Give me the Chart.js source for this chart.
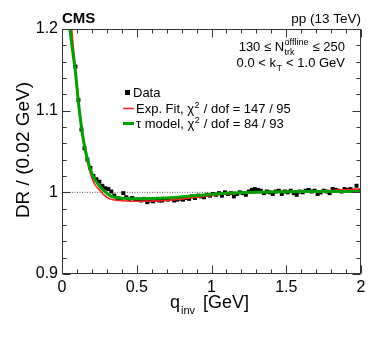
<!DOCTYPE html>
<html>
<head>
<meta charset="utf-8">
<script src="https://cdn.jsdelivr.net/npm/chart.js@4.4.1/dist/chart.umd.min.js"></script>
<style>
html, body { margin: 0; padding: 0; background: #fff; }
canvas { display: block; }
</style>
</head>
<body>
<canvas id="mycanvas" width="374" height="338"></canvas>
<script>
// bin centres (0.02 GeV bins)
let qBins = [
    0.01, 0.03, 0.05, 0.07, 0.09, 0.11, 0.13, 0.15, 0.17, 0.19,
    0.21, 0.23, 0.25, 0.27, 0.29, 0.31, 0.33, 0.35, 0.37, 0.39,
    0.41, 0.43, 0.45, 0.47, 0.49, 0.51, 0.53, 0.55, 0.57, 0.59,
    0.61, 0.63, 0.65, 0.67, 0.69, 0.71, 0.73, 0.75, 0.77, 0.79,
    0.81, 0.83, 0.85, 0.87, 0.89, 0.91, 0.93, 0.95, 0.97, 0.99,
    1.01, 1.03, 1.05, 1.07, 1.09, 1.11, 1.13, 1.15, 1.17, 1.19,
    1.21, 1.23, 1.25, 1.27, 1.29, 1.31, 1.33, 1.35, 1.37, 1.39,
    1.41, 1.43, 1.45, 1.47, 1.49, 1.51, 1.53, 1.55, 1.57, 1.59,
    1.61, 1.63, 1.65, 1.67, 1.69, 1.71, 1.73, 1.75, 1.77, 1.79,
    1.81, 1.83, 1.85, 1.87, 1.89, 1.91, 1.93, 1.95, 1.97, 1.99
];
let drData = [
    1.600, 1.450, 1.300, 1.215, 1.154, 1.113, 1.077, 1.054, 1.040, 1.030,
    1.020, 1.016, 1.013, 1.008, 1.005, 1.004, 1.001, 0.996, 0.993, 0.992,
    0.999, 0.994, 0.992, 0.993, 0.991, 0.991, 0.990, 0.992, 0.988, 0.990,
    0.989, 0.991, 0.990, 0.990, 0.992, 0.991, 0.992, 0.990, 0.991, 0.992,
    0.991, 0.993, 0.992, 0.995, 0.993, 0.996, 0.995, 0.994, 0.997, 0.996,
    0.998, 0.997, 0.999, 0.996, 1.000, 0.998, 0.999, 0.995, 0.998, 1.000,
    0.999, 0.997, 1.001, 1.003, 1.004, 1.003, 1.002, 0.999, 1.001, 1.000,
    0.998, 1.001, 1.002, 0.998, 1.001, 1.000, 1.002, 0.999, 0.997, 1.001,
    1.000, 1.002, 1.003, 1.001, 1.002, 0.998, 1.000, 1.002, 1.001, 0.999,
    1.004, 1.003, 1.002, 1.001, 1.004, 1.003, 1.004, 1.002, 1.008, 1.002
];

// fit curves
let expFitQ = [0.058, 0.065, 0.077, 0.09, 0.11, 0.13, 0.15, 0.17, 0.19, 0.21, 0.23, 0.25, 0.28, 0.32, 0.38, 0.50, 0.70, 0.90, 1.10, 1.30, 1.50, 1.75, 2.00];
let expFitY = [1.215, 1.200, 1.175, 1.150, 1.110, 1.078, 1.054, 1.037, 1.023, 1.013, 1.007, 1.003, 0.997, 0.992, 0.990, 0.989, 0.990, 0.994, 0.998, 1.000, 1.001, 1.002, 1.004];
let tauQ = [0.045, 0.053, 0.07, 0.09, 0.11, 0.13, 0.15, 0.17, 0.19, 0.21, 0.23, 0.25, 0.28, 0.32, 0.38, 0.50, 0.70, 0.90, 1.10, 1.30, 1.60, 2.00];
let tauY = [1.215, 1.200, 1.175, 1.147, 1.110, 1.080, 1.057, 1.041, 1.028, 1.019, 1.013, 1.008, 1.002, 0.996, 0.993, 0.992, 0.993, 0.996, 0.999, 1.000, 1.001, 1.001];

let refQ = [0, 2];
let refY = [1, 1];

let xTicks = [0, 0.5, 1, 1.5, 2];
let xTickLabels = ['0', '0.5', '1', '1.5', '2'];
let yTicks = [0.9, 1, 1.1, 1.2];
let yTickLabels = ['0.9', '1', '1.1', '1.2'];

let FONT = "'Liberation Sans', Arial, Helvetica, sans-serif";

function pts(xs, ys) {
    let out = [];
    for (let i in xs) out.push({x: xs[i], y: ys[i]});
    return out;
}

function tickLabel(ticks, labels, v) {
    for (let i in ticks) {
        if (Math.abs(ticks[i] - v) < 1e-6) return labels[i];
    }
    return '';
}

// ROOT-like frame with inward ticks, plus all text
let cmsPlugin = {
    id: 'cms',
    afterDatasetsDraw(chart) {
        let ctx = chart.ctx;
        let a = chart.chartArea;
        let xs = chart.scales.x, ys = chart.scales.y;
        let L = Math.round(a.left) + 0.5, R = Math.round(a.right) - 0.5;
        let T = Math.round(a.top) + 0.5, B = Math.round(a.bottom) - 0.5;
        ctx.save();
        ctx.strokeStyle = '#333';
        ctx.lineWidth = 1;
        ctx.strokeRect(L, T, R - L, B - T);
        ctx.beginPath();
        for (let i = 0; i <= 20; i++) {
            let px = Math.round(xs.getPixelForValue(i * 0.1)) + 0.5;
            let len = (i % 5 === 0) ? 8 : 4;
            ctx.moveTo(px, B); ctx.lineTo(px, B - len);
            ctx.moveTo(px, T); ctx.lineTo(px, T + len);
        }
        for (let i = 0; i <= 15; i++) {
            let py = Math.round(ys.getPixelForValue(0.9 + i * 0.02)) + 0.5;
            let len = (i % 5 === 0) ? 8 : 4;
            ctx.moveTo(L, py); ctx.lineTo(L + len, py);
            ctx.moveTo(R, py); ctx.lineTo(R - len, py);
        }
        ctx.stroke();
        ctx.restore();
    },
    afterDraw(chart) {
        let ctx = chart.ctx;
        ctx.save();
        ctx.fillStyle = '#000';
        ctx.textBaseline = 'alphabetic';

        // header
        ctx.font = 'bold 15px ' + FONT;
        ctx.textAlign = 'left';
        ctx.fillText('CMS', 62, 23);
        ctx.font = '13.5px ' + FONT;
        ctx.textAlign = 'right';
        ctx.fillText('pp (13 TeV)', 361, 23);

        // selection text, right aligned at x=345
        ctx.textAlign = 'left';
        let big = '13px ' + FONT, small = '9px ' + FONT;
        ctx.font = big;
        let p1 = '130 \u2264 N', p3 = ' \u2264 250';
        let w1 = ctx.measureText(p1).width, w3 = ctx.measureText(p3).width;
        ctx.font = small;
        let w2 = Math.max(ctx.measureText('offline').width, ctx.measureText('trk').width) + 1;
        let x0 = 345 - (w1 + w2 + w3);
        ctx.font = big;
        ctx.fillText(p1, x0, 51);
        ctx.fillText(p3, x0 + w1 + w2, 51);
        ctx.font = small;
        ctx.fillText('offline', x0 + w1 + 0.5, 45);
        ctx.fillText('trk', x0 + w1 + 0.5, 55);

        ctx.font = big;
        let q1 = '0.0 < k', q3 = ' < 1.0 GeV';
        let v1 = ctx.measureText(q1).width, v3 = ctx.measureText(q3).width;
        ctx.font = small;
        let v2 = ctx.measureText('T').width + 1;
        let x1 = 345 - (v1 + v2 + v3);
        ctx.font = big;
        ctx.fillText(q1, x1, 67);
        ctx.fillText(q3, x1 + v1 + v2, 67);
        ctx.font = small;
        ctx.fillText('T', x1 + v1 + 0.5, 71);

        // legend
        ctx.fillRect(125, 90, 5, 5);
        ctx.font = big;
        ctx.fillText('Data', 133, 97);
        ctx.strokeStyle = '#ff2020';
        ctx.lineWidth = 1.5;
        ctx.beginPath(); ctx.moveTo(123, 108.5); ctx.lineTo(134, 108.5); ctx.stroke();
        ctx.strokeStyle = '#00a000';
        ctx.lineWidth = 3;
        ctx.beginPath(); ctx.moveTo(123, 123.5); ctx.lineTo(134, 123.5); ctx.stroke();
        let rows = [['Exp. Fit, \u03c7', ' / dof = 147 / 95', 113], ['\u03c4 model, \u03c7', ' / dof = 84 / 93', 128]];
        for (let r of rows) {
            ctx.font = big;
            let wa = ctx.measureText(r[0]).width;
            ctx.fillText(r[0], 136, r[2]);
            ctx.font = small;
            ctx.fillText('2', 136 + wa + 0.5, r[2] - 5);
            let wb = ctx.measureText('2').width + 1;
            ctx.font = big;
            ctx.fillText(r[1], 136 + wa + wb, r[2]);
        }

        // axis titles
        ctx.font = '18px ' + FONT;
        ctx.fillText('q', 170, 308);
        let wq = ctx.measureText('q').width;
        ctx.font = '11px ' + FONT;
        ctx.fillText('inv', 170 + wq + 1, 314);
        ctx.font = '18px ' + FONT;
        ctx.fillText('[GeV]', 203, 308);

        ctx.translate(29, 150);
        ctx.rotate(-Math.PI / 2);
        ctx.textAlign = 'center';
        ctx.font = '19px ' + FONT;
        ctx.fillText('DR / (0.02 GeV)', 0, 0);
        ctx.restore();
    }
};

let chartdata = {
    datasets: [
        {
            label: 'tau model',
            data: pts(tauQ, tauY),
            showLine: true,
            borderColor: '#00a000',
            borderWidth: 3,
            pointRadius: 0,
            cubicInterpolationMode: 'monotone',
            order: 0
        },
        {
            label: 'Exp. Fit',
            data: pts(expFitQ, expFitY),
            showLine: true,
            borderColor: '#ff2020',
            borderWidth: 1.6,
            pointRadius: 0,
            cubicInterpolationMode: 'monotone',
            order: 1
        },
        {
            label: 'Data',
            data: pts(qBins, drData),
            showLine: false,
            pointStyle: 'rect',
            pointRadius: 2.8,
            pointBorderWidth: 0,
            backgroundColor: '#000',
            borderColor: '#000',
            order: 2
        },
        {
            label: 'ref',
            data: pts(refQ, refY),
            showLine: true,
            borderColor: '#555',
            borderWidth: 1,
            borderDash: [1, 1.5],
            pointRadius: 0,
            order: 3
        }
    ]
};

Chart.defaults.font.family = FONT;
Chart.defaults.color = '#000';

let ctx = document.getElementById('mycanvas');
let graph = new Chart(ctx, {
    type: 'scatter',
    data: chartdata,
    options: {
        responsive: false,
        devicePixelRatio: 1,
        animation: false,
        layout: { padding: { top: 29, right: 13, left: 0, bottom: 0 } },
        plugins: { legend: { display: false }, tooltip: { enabled: false } },
        scales: {
            x: {
                type: 'linear',
                min: 0,
                max: 2,
                afterBuildTicks: (s) => { s.ticks = xTicks.map(v => ({value: v})); },
                afterFit: (s) => { s.height = 64; },
                grid: { display: false, drawTicks: false },
                border: { display: false },
                ticks: {
                    padding: 4,
                    maxRotation: 0,
                    autoSkip: false,
                    font: { size: 16 },
                    callback: (v) => tickLabel(xTicks, xTickLabels, v)
                }
            },
            y: {
                type: 'linear',
                min: 0.9,
                max: 1.2,
                afterBuildTicks: (s) => { s.ticks = yTicks.map(v => ({value: v})); },
                afterFit: (s) => { s.width = 62; },
                grid: { display: false, drawTicks: false },
                border: { display: false },
                ticks: {
                    padding: 4,
                    autoSkip: false,
                    font: { size: 16 },
                    callback: (v) => tickLabel(yTicks, yTickLabels, v)
                }
            }
        }
    },
    plugins: [cmsPlugin]
});
</script>
</body>
</html>
